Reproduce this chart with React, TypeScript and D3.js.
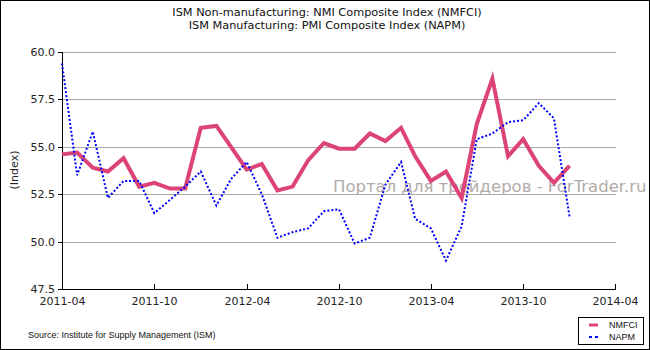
import React from "react";
import * as d3 from "d3";

const months = [
  "2011-04", "2011-05", "2011-06", "2011-07", "2011-08", "2011-09", "2011-10", "2011-11", "2011-12",
  "2012-01", "2012-02", "2012-03", "2012-04", "2012-05", "2012-06", "2012-07", "2012-08", "2012-09",
  "2012-10", "2012-11", "2012-12", "2013-01", "2013-02", "2013-03", "2013-04", "2013-05", "2013-06",
  "2013-07", "2013-08", "2013-09", "2013-10", "2013-11", "2013-12", "2014-01",
];
const nmfci = [
  54.6, 54.7, 53.9, 53.7, 54.4, 52.9, 53.1, 52.8, 52.8,
  56.0, 56.1, 55.0, 53.8, 54.1, 52.7, 52.9, 54.3, 55.2,
  54.9, 54.9, 55.7, 55.3, 56.0, 54.5, 53.2, 53.7, 52.3,
  56.2, 58.6, 54.5, 55.4, 54.0, 53.1, 54.0,
];
const napm = [
  59.4, 53.5, 55.8, 52.3, 53.2, 53.2, 51.5, 52.2, 52.9,
  53.7, 51.9, 53.3, 54.2, 52.5, 50.2, 50.5, 50.7, 51.6,
  51.7, 49.9, 50.2, 53.0, 54.2, 51.2, 50.7, 49.0, 50.8,
  55.4, 55.7, 56.3, 56.4, 57.3, 56.5, 51.3,
];
const xTickLabels = ["2011-04", "2011-10", "2012-04", "2012-10", "2013-04", "2013-10", "2014-04"];
const yTicks = [47.5, 50.0, 52.5, 55.0, 57.5, 60.0];

const W = 650;
const H = 350;
const parse = d3.timeParse("%Y-%m");

export default function App() {
  const x = d3
    .scaleTime()
    .domain([parse("2011-04")!, parse("2014-04")!])
    .range([62, 615]);
  const y = d3.scaleLinear().domain([47.5, 60]).range([289, 52]);

  const line = d3
    .line<number>()
    .x((_, i) => x(parse(months[i])!))
    .y((d) => y(d));

  const font = "'DejaVu Sans', Verdana, sans-serif";

  return (
    <div style={{ position: "fixed", left: 0, top: 0 }}>
      <svg width={W} height={H} style={{ display: "block", background: "#fff" }}>
        <rect x={0.5} y={0.5} width={W - 1} height={H - 1} fill="#fff" stroke="#000" />
        <text x={327} y={16} textAnchor="middle" fontFamily={font} fontSize={11.3} fill="#111">
          ISM Non-manufacturing: NMI Composite Index (NMFCI)
        </text>
        <text x={327} y={29} textAnchor="middle" fontFamily={font} fontSize={11.3} fill="#111">
          ISM Manufacturing: PMI Composite Index (NAPM)
        </text>

        {/* grid */}
        {yTicks.slice(1).map((t) => (
          <line key={t} x1={62} x2={616} y1={Math.round(y(t)) + 0.5} y2={Math.round(y(t)) + 0.5} stroke="#aaa" />
        ))}

        {/* axes */}
        <line x1={62.5} x2={62.5} y1={52} y2={289.5} stroke="#000" />
        <line x1={62} x2={616} y1={289.5} y2={289.5} stroke="#000" />
        {yTicks.map((t) => (
          <g key={t}>
            <line x1={58} x2={62} y1={Math.round(y(t)) + 0.5} y2={Math.round(y(t)) + 0.5} stroke="#000" />
            <text x={55} y={y(t) + 4} textAnchor="end" fontFamily={font} fontSize={11} fill="#222">
              {t.toFixed(1)}
            </text>
          </g>
        ))}
        {xTickLabels.map((l) => {
          const px = Math.round(x(parse(l)!)) + 0.5;
          return (
            <g key={l}>
              <line x1={px} x2={px} y1={284} y2={289} stroke="#000" />
              <text x={px} y={305} textAnchor="middle" fontFamily={font} fontSize={11} fill="#222">
                {l}
              </text>
            </g>
          );
        })}
        <text
          transform="translate(18,170) rotate(-90)"
          textAnchor="middle"
          fontFamily={font}
          fontSize={11}
          fill="#222"
        >
          (Index)
        </text>

        {/* watermark */}
        <text x={333} y={192} fontFamily={font} fontSize={16.5} fill="#b3abab">
          Портал для трейдеров - ForTrader.ru
        </text>

        {/* series */}
        <path d={line(nmfci) ?? ""} fill="none" stroke="#dc4478" strokeWidth={4} strokeLinejoin="miter" />
        <path d={line(napm) ?? ""} fill="none" stroke="#0000ff" strokeWidth={2} strokeDasharray="2,2" />

        {/* source */}
        <text x={28} y={338} fontFamily="'Liberation Sans', Arial, sans-serif" fontSize={9} fill="#111">
          Source: Institute for Supply Management (ISM)
        </text>

        {/* legend */}
        <rect x={578.5} y={317.5} width={65} height={27} fill="#fff" stroke="#000" />
        <line x1={589} x2={598} y1={325} y2={325} stroke="#dc4478" strokeWidth={3} />
        <line x1={589} x2={598} y1={337} y2={337} stroke="#0000ff" strokeWidth={2} strokeDasharray="3,3" />
        <text x={609} y={328} fontFamily="'Liberation Sans', Arial, sans-serif" fontSize={9} fill="#111">
          NMFCI
        </text>
        <text x={609} y={340} fontFamily="'Liberation Sans', Arial, sans-serif" fontSize={9} fill="#111">
          NAPM
        </text>
      </svg>
    </div>
  );
}
